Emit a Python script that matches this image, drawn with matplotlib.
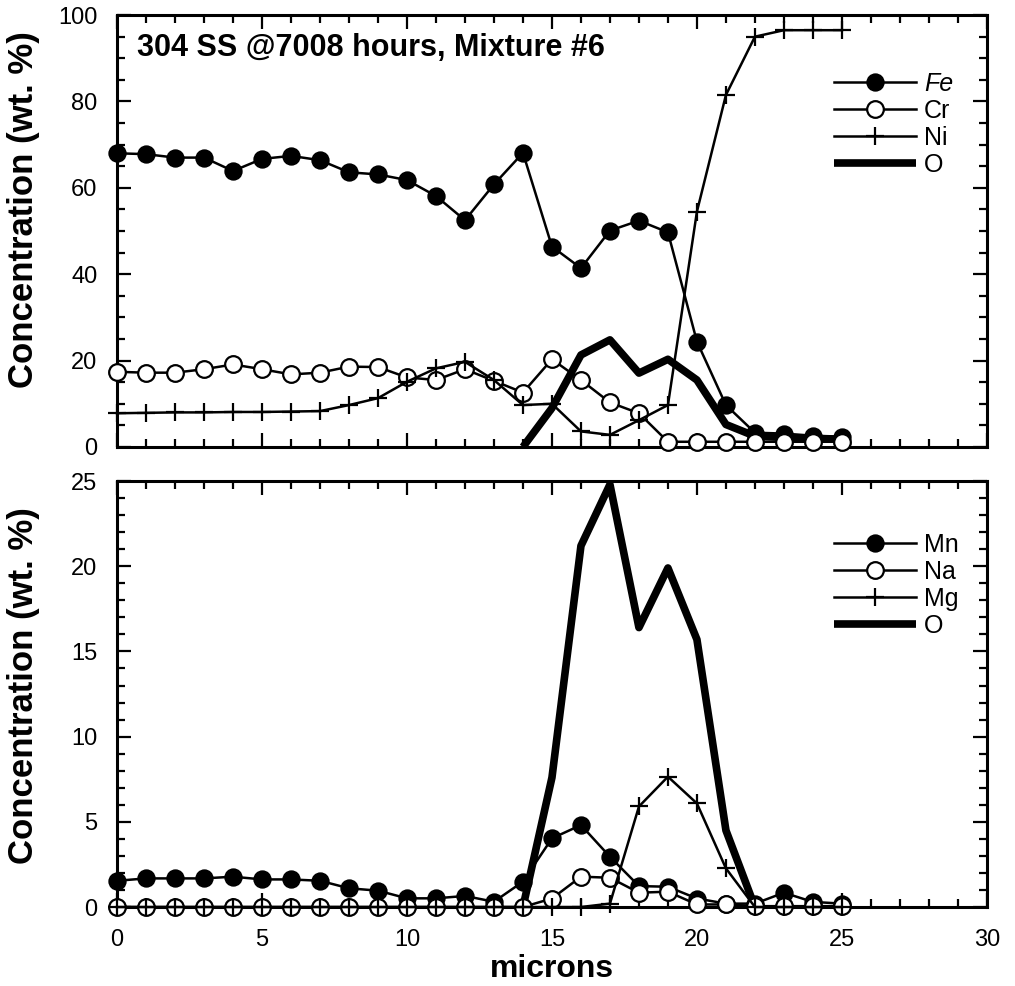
import matplotlib
matplotlib.use('Agg')
import matplotlib.pyplot as plt
from matplotlib.ticker import MultipleLocator

plt.rcParams['font.family'] = ['Liberation Sans', 'DejaVu Sans']

# ---------------- data ----------------
microns = list(range(0, 26))

# top panel: 304 SS major elements
fe = [68.0, 67.8, 67.0, 67.0, 63.9, 66.7, 67.4, 66.4, 63.6, 63.1, 61.8, 58.1, 52.5,
      60.8, 68.1, 46.4, 41.4, 50.1, 52.4, 49.7, 24.4, 9.7, 3.3, 3.1, 2.6, 2.3]
cr = [17.4, 17.2, 17.2, 18.0, 19.1, 18.0, 16.8, 17.2, 18.6, 18.5, 16.1, 15.5, 18.0,
      15.3, 12.6, 20.3, 15.5, 10.3, 7.8, 1.2, 1.2, 1.2, 1.2, 1.2, 1.2, 1.2]
ni = [7.8, 7.9, 8.0, 8.0, 8.1, 8.1, 8.2, 8.3, 9.7, 11.3, 15.1, 18.2, 19.7,
      15.5, 9.7, 10.0, 3.6, 2.8, 6.2, 9.7, 54.5, 81.5, 95.0, 96.5, 96.5, 96.5]
o_top_x = list(range(14, 26))
o_top = [0.0, 9.0, 21.3, 24.8, 17.1, 20.3, 15.5, 5.2, 2.5, 2.2, 2.0, 1.8]

# bottom panel: minor elements
mn = [1.54, 1.68, 1.68, 1.68, 1.78, 1.62, 1.62, 1.54, 1.10, 0.96, 0.51, 0.51, 0.65,
      0.31, 1.49, 4.03, 4.81, 2.95, 1.23, 1.19, 0.50, 0.20, 0.20, 0.84, 0.30, 0.20]
na = [0.0] * 15 + [0.5, 1.78, 1.72, 0.84, 0.90, 0.15, 0.15, 0.05, 0.05, 0.05, 0.05]
mg = [0.0] * 17 + [0.2, 5.9, 7.65, 6.08, 2.27, 0.0, 0.0, 0.0, 0.0]
o_bot_x = list(range(14, 23))
o_bot = [0.0, 7.6, 21.2, 24.8, 16.4, 19.9, 15.7, 4.5, 0.0]

TITLE = '304 SS @7008 hours, Mixture #6'

# ---------------- figure ----------------
fig = plt.figure(figsize=(10.15, 9.86), dpi=100)
ax1 = fig.add_axes([0.1153, 0.5467, 0.857, 0.438])
ax2 = fig.add_axes([0.1153, 0.0801, 0.857, 0.432])

thin = dict(color='black', lw=1.8, clip_on=False)
filled = dict(marker='o', ms=12, mfc='black', mec='black', mew=1.2)
hollow = dict(marker='o', ms=12, mfc='white', mec='black', mew=1.6)
plus = dict(marker='+', ms=13, mec='black', mew=1.6)


def style_axes(ax, ymax, ymajor, yminor):
    ax.set_xlim(0, 30)
    ax.set_ylim(0, ymax)
    ax.xaxis.set_major_locator(MultipleLocator(5))
    ax.xaxis.set_minor_locator(MultipleLocator(1))
    ax.yaxis.set_major_locator(MultipleLocator(ymajor))
    ax.yaxis.set_minor_locator(MultipleLocator(yminor))
    ax.tick_params(which='both', direction='in', top=True, right=True,
                   width=1.6, labelsize=17)
    ax.tick_params(which='major', length=10)
    ax.tick_params(which='minor', length=5.5)
    ax.tick_params(axis='y', pad=14)
    ax.tick_params(axis='x', pad=16)
    for sp in ax.spines.values():
        sp.set_linewidth(2.2)
    ax.set_ylabel('Concentration (wt. %)', fontsize=25, fontweight='bold', labelpad=6)


# top panel
h_o, = ax1.plot(o_top_x, o_top, color='black', lw=5.5, solid_capstyle='butt', label='O', zorder=2)
h_fe, = ax1.plot(microns, fe, label='Fe', zorder=3, **thin, **filled)
h_cr, = ax1.plot(microns, cr, label='Cr', zorder=4, **thin, **hollow)
h_ni, = ax1.plot(microns, ni, label='Ni', zorder=5, **thin, **plus)
style_axes(ax1, 100, 20, 5)
ax1.tick_params(axis='x', labelbottom=False)
ax1.yaxis.set_label_coords(-0.088, 0.55)
ax1.text(0.023, 0.958, TITLE, transform=ax1.transAxes, fontsize=22,
         fontweight='bold', ha='left', va='top')
leg1 = ax1.legend(handles=[h_fe, h_cr, h_ni, h_o], loc='upper left',
                  bbox_to_anchor=(0.824, 0.869), frameon=False, fontsize=18,
                  handlelength=3.3, handletextpad=0.3, labelspacing=0.12,
                  borderpad=0, borderaxespad=0)
leg1.get_texts()[0].set_style('italic')

# bottom panel
h_o2, = ax2.plot(o_bot_x, o_bot, color='black', lw=5.5, solid_capstyle='butt', label='O', zorder=2)
h_mn, = ax2.plot(microns, mn, label='Mn', zorder=3, **thin, **filled)
h_na, = ax2.plot(microns, na, label='Na', zorder=4, **thin, **hollow)
h_mg, = ax2.plot(microns, mg, label='Mg', zorder=5, **thin, **plus)
style_axes(ax2, 25, 5, 1)
ax2.yaxis.set_label_coords(-0.088, 0.52)
ax2.set_xlabel('microns', fontsize=23, fontweight='bold', labelpad=2)
ax2.legend(handles=[h_mn, h_na, h_mg, h_o2], loc='upper left',
           bbox_to_anchor=(0.824, 0.878), frameon=False, fontsize=18,
           handlelength=3.3, handletextpad=0.3, labelspacing=0.12,
           borderpad=0, borderaxespad=0)

fig.savefig('out.png', dpi=100)
